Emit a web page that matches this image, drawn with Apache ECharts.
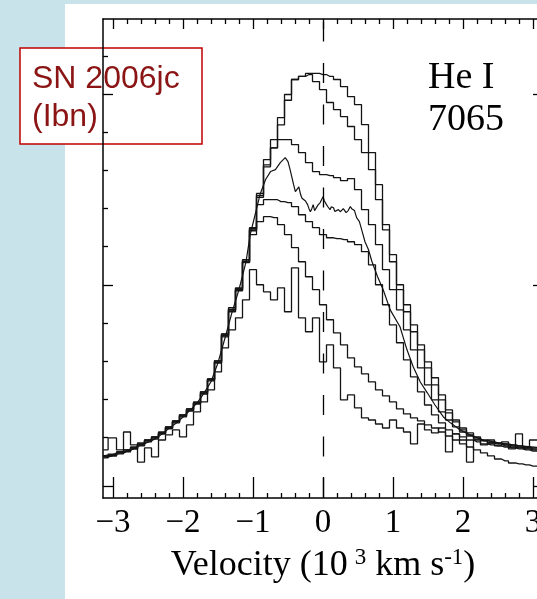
<!DOCTYPE html>
<html><head><meta charset="utf-8">
<script src="https://cdn.jsdelivr.net/npm/echarts@6/dist/echarts.min.js"></script>
<style>
html,body{margin:0;padding:0;background:#c8e4ea;}
#panel{position:absolute;left:65px;top:4px;width:472px;height:595px;background:#fff;}
#chart{position:absolute;left:0;top:0;width:537px;height:599px;}
</style></head>
<body><div id="panel"></div><div id="chart"></div>
<script>
// velocity bin centres (10^3 km/s)
const vel = [-3.14,-3.0,-2.9,-2.8,-2.7,-2.6,-2.5,-2.4,-2.3,-2.2,-2.1,-2.0,-1.9,-1.8,-1.7,-1.6,-1.5,-1.4,-1.3,-1.2,-1.1,-1.0,-0.9,-0.8,-0.7,-0.6,-0.5,-0.4,-0.3,-0.2,-0.1,0,0.1,0.2,0.3,0.4,0.5,0.6,0.7,0.8,0.9,1.0,1.1,1.2,1.3,1.4,1.5,1.6,1.7,1.8,1.9,2.0,2.1,2.2,2.3,2.4,2.5,2.6,2.7,2.8,2.9,3.0,3.14];

// relative flux of each epoch (stepped spectra on the common velocity bins)
const specA = [0.095,0.105,0.116,0.126,0.142,0.163,0.179,0.195,0.221,0.247,
  0.279,0.311,0.342,0.379,0.432,0.5,0.595,0.737,0.868,0.974,
  1.121,1.289,1.47,1.63,1.72,1.84,1.97,2.079,2.095,2.111,
  2.111,2.105,2.095,2.079,2.042,1.989,1.947,1.842,1.695,1.526,
  1.316,1.158,1.0,0.895,0.789,0.684,0.595,0.511,0.421,0.342,
  0.289,0.247,0.221,0.2,0.184,0.174,0.168,0.163,0.158,0.153,
  0.147,0.142,0.142];
const specB = [0.1,0.1,0.121,0.132,0.137,0.158,0.184,0.2,0.216,0.253,
  0.274,0.316,0.337,0.384,0.426,0.505,0.6,0.726,0.879,0.984,
  1.132,1.3,1.48,1.658,1.763,1.879,2.0,2.079,2.095,2.105,
  2.068,2.026,1.958,1.921,1.884,1.832,1.763,1.695,1.605,1.447,
  1.289,1.121,0.974,0.858,0.753,0.658,0.563,0.474,0.395,0.326,
  0.279,0.237,0.211,0.195,0.179,0.168,0.163,0.153,0.147,0.142,
  0.137,0.132,0.132];
const specC = [0.09,0.11,0.111,0.132,0.137,0.168,0.174,0.2,0.226,0.242,
  0.284,0.305,0.347,0.374,0.437,0.495,0.59,0.742,0.858,0.968,
  1.116,1.295,1.46,1.62,1.72,1.763,1.763,1.737,1.695,1.642,
  1.595,1.579,1.574,1.563,1.547,1.558,1.5,1.395,1.316,1.211,
  1.079,0.974,0.868,0.763,0.658,0.563,0.474,0.395,0.332,0.289,
  0.253,0.226,0.205,0.189,0.179,0.168,0.163,0.158,0.153,0.147,
  0.142,0.137,0.137];
const specE = [0.1,0.105,0.121,0.121,0.147,0.158,0.184,0.189,0.221,0.253,
  0.279,0.316,0.337,0.374,0.437,0.5,0.6,0.732,0.863,0.979,
  1.126,1.284,1.421,1.447,1.447,1.437,1.432,1.411,1.368,1.332,
  1.3,1.263,1.247,1.242,1.237,1.226,1.211,1.174,1.105,1.0,
  0.895,0.789,0.695,0.605,0.516,0.437,0.368,0.316,0.274,0.237,
  0.216,0.2,0.184,0.174,0.163,0.158,0.153,0.147,0.142,0.137,
  0.132,0.126,0.126];
const specF = [0.095,0.1,0.116,0.126,0.142,0.153,0.179,0.195,0.216,0.247,
  0.284,0.311,0.347,0.379,0.426,0.505,0.59,0.74,0.87,0.97,
  1.12,1.263,1.332,1.358,1.353,1.316,1.263,1.195,1.121,1.042,
  0.974,0.895,0.816,0.747,0.684,0.616,0.568,0.532,0.489,0.447,
  0.416,0.384,0.347,0.321,0.3,0.284,0.263,0.247,0.226,0.205,
  0.184,0.163,0.147,0.132,0.116,0.1,0.084,0.074,0.063,0.058,
  0.053,0.047,0.042];
const specG = [0.132,0.195,0.132,0.226,0.158,0.068,0.142,0.095,0.184,0.211,
  0.237,0.2,0.263,0.332,0.384,0.447,0.542,0.668,0.763,0.826,
  0.921,1.079,1.0,0.963,0.921,0.984,0.858,1.089,0.826,0.753,
  0.826,0.595,0.684,0.563,0.395,0.421,0.353,0.3,0.289,0.268,
  0.247,0.289,0.247,0.226,0.163,0.268,0.237,0.221,0.247,0.121,
  0.216,0.184,0.068,0.184,0.158,0.184,0.153,0.174,0.137,0.216,
  0.142,0.184,0.226];

// high-resolution epoch (own velocity sampling)
const velD = [-3.14,-3.0,-2.9,-2.8,-2.7,-2.6,-2.5,-2.4,-2.3,-2.2,-2.1,-2.0,-1.9,-1.8,-1.7,-1.6,-1.5,-1.4,-1.3,-1.2,-1.1,
  -1.04,-0.97,-0.9,-0.82,-0.75,-0.68,-0.61,-0.54,-0.5,-0.47,
  -0.42,-0.395,-0.37,-0.345,-0.32,-0.3,-0.28,-0.25,-0.22,-0.2,-0.18,-0.16,-0.14,-0.12,-0.1,-0.07,-0.04,-0.02,0.0,0.02,
  0.05,0.07,0.1,0.12,0.15,0.17,0.19,0.22,0.25,0.27,0.29,0.31,0.33,0.36,0.39,0.41,0.43,0.45,0.48,
  0.52,0.56,0.6,0.65,0.7,0.78,0.86,0.96,1.1,1.2,
  1.29,1.39,1.49,1.6,1.72,1.82,1.96,2.1,2.29,2.53,
  2.82,3.14];
const specD = [0.1,0.108,0.118,0.128,0.14,0.158,0.172,0.19,0.215,0.245,0.272,0.305,0.34,0.378,0.43,0.49,0.59,0.72,0.855,0.975,1.12,
  1.263,1.368,1.474,1.553,1.595,1.605,1.642,1.668,1.647,1.605,
  1.526,1.49,1.5,1.515,1.474,1.455,1.447,1.44,1.421,1.40,1.384,1.40,1.421,1.39,1.395,1.42,1.432,1.44,1.463,1.44,
  1.421,1.41,1.395,1.41,1.405,1.385,1.379,1.395,1.384,1.375,1.4,1.395,1.379,1.39,1.411,1.40,1.395,1.39,1.353,
  1.332,1.279,1.226,1.184,1.121,1.042,0.974,0.868,0.779,0.658,
  0.568,0.489,0.432,0.368,0.305,0.274,0.237,0.211,0.184,0.168,
  0.153,0.142];

// axes
const xMajor = [-3,-2,-1,0,1,2,3];
const xTickLabels = ['\u22123','\u22122','\u22121','0','1','2','3'];
const xMinor = [-2.8,-2.6,-2.4,-2.2,-1.8,-1.6,-1.4,-1.2,-0.8,-0.6,-0.4,-0.2,0.2,0.4,0.6,0.8,1.2,1.4,1.6,1.8,2.2,2.4,2.6,2.8];
const yMajor = [-0.06,1,2];
const yMinor = [0.2,0.4,0.6,0.8,1.2,1.4,1.6,1.8,2.2];
const xRange = [-3.143, 3.143];
const yRange = [-0.121, 2.397];

const pair = (xs, ys) => ys.map((y, i) => [xs[i], y]);
const lineCol = '#141414';
const serif = '"Liberation Serif", "DejaVu Serif", serif';

function xAx(pos, ticks, len, showLine, showLabel) {
  return {
    type: 'value', position: pos, min: xRange[0], max: xRange[1],
    axisLine: {show: showLine, onZero: false, lineStyle: {color: '#000', width: 1.5}},
    axisTick: {show: true, inside: true, length: len, customValues: ticks, lineStyle: {color: '#000', width: 1.3}},
    axisLabel: showLabel ? {show: true, customValues: xMajor, margin: 9, color: '#000', fontFamily: serif, fontSize: 33,
      formatter: v => xTickLabels[xMajor.indexOf(Math.round(v))]} : {show: false},
    splitLine: {show: false}
  };
}
function yAx(pos, ticks, len, showLine) {
  return {
    type: 'value', position: pos, min: yRange[0], max: yRange[1],
    axisLine: {show: showLine, onZero: false, lineStyle: {color: '#000', width: 1.5}},
    axisTick: {show: true, inside: true, length: len, customValues: ticks, lineStyle: {color: '#000', width: 1.3}},
    axisLabel: {show: false}, splitLine: {show: false}
  };
}

const xAxes = [
  xAx('bottom', xMajor, 21, true, true),
  xAx('bottom', xMinor, 5, false, false),
  xAx('top', xMajor, 10, true, false),
  xAx('top', xMinor, 5, false, false)
];
xAxes[0].name = '{t|Velocity (10}{s1|3}{t| km s}{s2|-1}{t|)}';
xAxes[0].nameLocation = 'middle';
xAxes[0].nameGap = 48;
xAxes[0].nameTextStyle = {
  color: '#000', fontFamily: serif, fontSize: 36,
  rich: {
    t: {fontFamily: serif, fontSize: 36, color: '#000', lineHeight: 40},
    s1: {fontFamily: serif, fontSize: 23, color: '#000', verticalAlign: 'top', padding: [0, 0, 0, 7], lineHeight: 40},
    s2: {fontFamily: serif, fontSize: 23, color: '#000', verticalAlign: 'top', lineHeight: 40}
  }
};

const stepSeries = [specA, specB, specC, specE, specF, specG].map(s => ({
  type: 'line', step: 'middle', data: pair(vel, s), showSymbol: false, symbol: 'none',
  lineStyle: {color: lineCol, width: 1.3}, silent: true
}));
const seriesD = {
  type: 'line', data: pair(velD, specD), showSymbol: false, symbol: 'none',
  lineStyle: {color: lineCol, width: 1.2}, silent: true
};
const zeroLine = {
  type: 'line', data: [], silent: true,
  markLine: {symbol: 'none', silent: true, label: {show: false},
    lineStyle: {color: '#000', width: 1.3, type: [20, 21.5]},
    data: [{xAxis: 0}]}
};

const chart = echarts.init(document.getElementById('chart'), null, {renderer: 'canvas'});
chart.setOption({
  animation: false,
  grid: {left: 103, top: 19, width: 440, height: 479, containLabel: false, outerBoundsMode: 'none'},
  xAxis: xAxes,
  yAxis: [yAx('left', yMajor, 10, true), yAx('left', yMinor, 5, false), yAx('right', yMajor, 10, true), yAx('right', yMinor, 5, false)],
  series: [...stepSeries, seriesD, zeroLine],
  graphic: [
    {type: 'text', left: 428, top: 57, z: 50,
      style: {text: 'He I\n7065', font: '38px ' + serif, fill: '#000', lineHeight: 42}},
    {type: 'group', z: 100, children: [
      {type: 'rect', shape: {x: 20, y: 48, width: 182, height: 96},
        style: {fill: '#fff', stroke: '#c00000', lineWidth: 1.5}},
      {type: 'text', x: 32, y: 60,
        style: {text: 'SN 2006jc\n(Ibn)', font: '32px "Liberation Sans", Arial, sans-serif', fill: '#8b1414', lineHeight: 38}}
    ]}
  ]
});
</script></body></html>
